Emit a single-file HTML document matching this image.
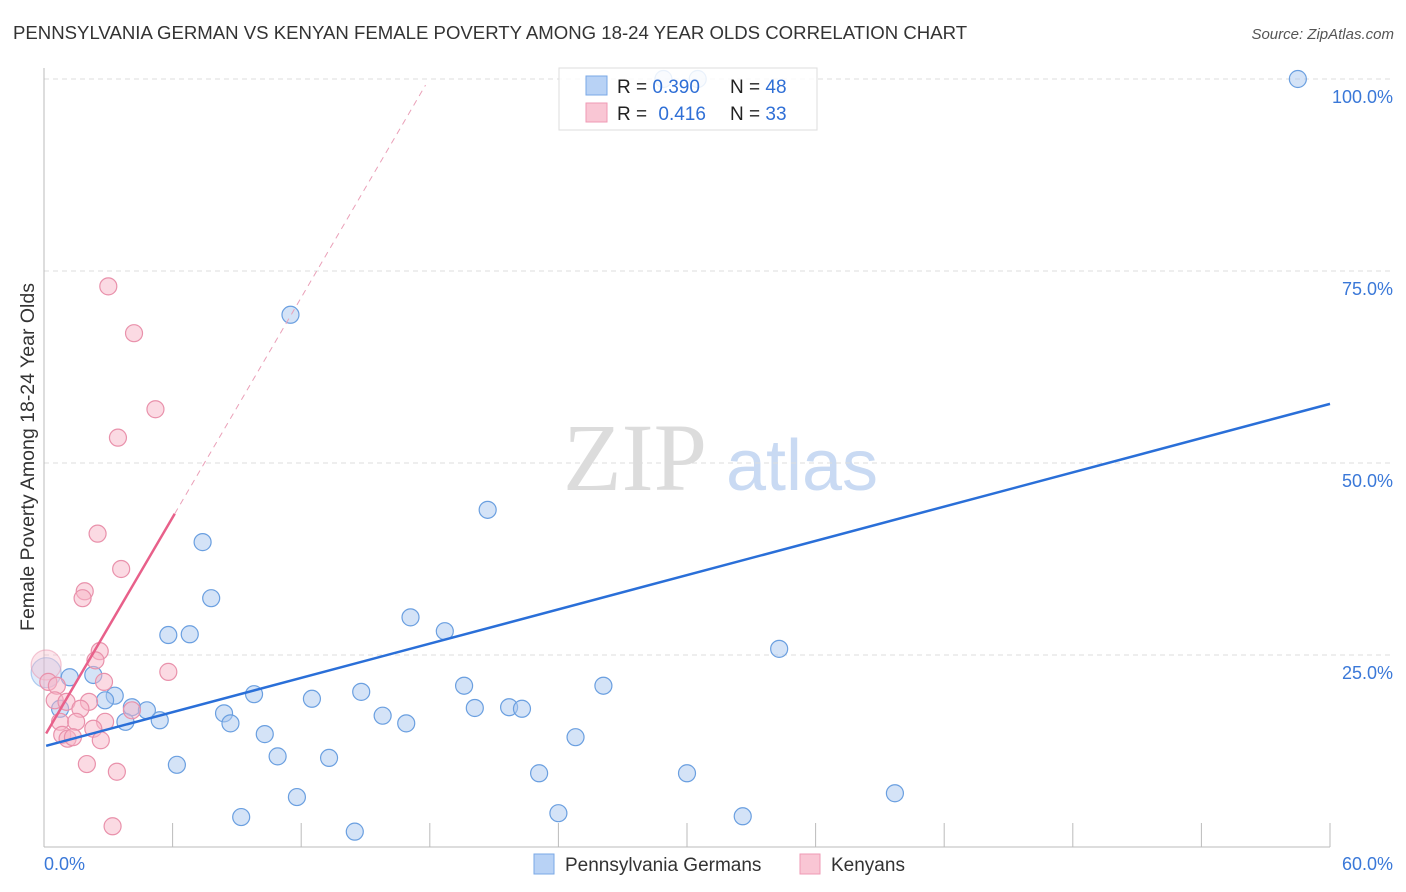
<!DOCTYPE html>
<html><head><meta charset="utf-8"><style>
body{margin:0;background:#fff;font-family:"Liberation Sans",sans-serif;}
svg{display:block}
</style></head><body>
<svg id="chart" width="1406" height="892" xmlns="http://www.w3.org/2000/svg">
<text x="13" y="39" font-size="18.6" fill="#333" font-family="Liberation Sans, sans-serif">PENNSYLVANIA GERMAN VS KENYAN FEMALE POVERTY AMONG 18-24 YEAR OLDS CORRELATION CHART</text>
<text x="1394" y="39" font-size="15" fill="#555" text-anchor="end" font-style="italic">Source: ZipAtlas.com</text>
<g>
<text x="635" y="490" font-size="96" fill="#dcdcdc" font-family="Liberation Serif, serif" text-anchor="middle">ZIP</text>
<text x="802" y="490" font-size="72" fill="#c9daf3" text-anchor="middle">atlas</text>
</g>
<g id="grid"></g>
<g id="axes"></g>
<g id="points"></g>
<g id="lines"></g>
<text transform="translate(34,457) rotate(-90)" font-size="19.5" fill="#333" text-anchor="middle">Female Poverty Among 18-24 Year Olds</text>
<g>
<rect x="559" y="68" width="258" height="62" fill="#fff" fill-opacity="0.85" stroke="#ddd"/>
<rect x="586" y="76" width="21" height="19" fill="#b8d2f5" stroke="#7aa8e6"/>
<rect x="586" y="103" width="21" height="19" fill="#f9c6d4" stroke="#ef9ab4"/>
<text x="617" y="93" font-size="19" fill="#222">R = <tspan fill="#2f6fd6">0.390</tspan></text>
<text x="730" y="93" font-size="19" fill="#222">N = <tspan fill="#2f6fd6">48</tspan></text>
<text x="617" y="120" font-size="19" fill="#222">R = <tspan fill="#2f6fd6" dx="6">0.416</tspan></text>
<text x="730" y="120" font-size="19" fill="#222">N = <tspan fill="#2f6fd6">33</tspan></text>
</g>
<g>
<rect x="534" y="854" width="20" height="20" fill="#b8d2f5" stroke="#7aa8e6"/>
<text x="565" y="871" font-size="19" fill="#333">Pennsylvania Germans</text>
<rect x="800" y="854" width="20" height="20" fill="#f9c6d4" stroke="#ef9ab4"/>
<text x="831" y="871" font-size="19" fill="#333">Kenyans</text>
</g>
</svg>
<script>
const blueX=[58.5,28.9,30.5,11.5,20.7,7.4,7.8,17.1,18.7,5.8,6.8,34.3,2.3,1.2,0.1,19.6,26.1,14.8,9.8,3.3,2.85,12.5,4.1,4.8,20.1,21.7,22.3,8.4,0.75,15.8,3.8,5.4,8.7,16.9,10.3,24.8,10.9,13.3,6.2,23.1,30.0,39.7,11.8,9.2,24.0,32.6,14.5];
const blueY=[100,100,100,69.3,43.9,39.7,32.4,29.9,28.1,27.6,27.7,25.8,22.4,22.1,22.7,21.0,21.0,20.2,19.9,19.7,19.1,19.3,18.2,17.8,18.1,18.2,18.0,17.4,18.0,17.1,16.3,16.5,16.1,16.1,14.7,14.3,11.8,11.6,10.7,9.6,9.6,7.0,6.5,3.9,4.4,4.0,2.0];
const pinkX=[3.0,4.2,5.2,3.45,2.5,3.6,1.9,1.8,2.6,2.4,5.8,0.1,0.2,2.8,0.6,0.5,1.05,2.1,4.1,1.7,0.75,1.5,2.85,2.3,0.85,1.1,1.35,2.65,2.0,3.4,3.2];
const pinkY=[73.0,66.9,57.0,53.3,40.8,36.2,33.3,32.4,25.5,24.3,22.8,23.7,21.5,21.5,21.0,19.1,18.9,18.9,17.8,18.0,16.3,16.3,16.3,15.4,14.6,14.1,14.3,13.9,10.8,9.8,2.7];
const blueBig=[14]; const pinkBig=[11];
const blueTrend=[13.1,57.7]; // value at x=0, x=60
const pinkTrend=[14.3,4.77]; // intercept, slope
const yTicks=[25,50,75,100];
const xTickCount=10;
const NS="http://www.w3.org/2000/svg";
const X=v=>44+v/60*1286, Y=v=>847-v*7.68;
function mk(t,a,p){const e=document.createElementNS(NS,t);for(const k in a)e.setAttribute(k,a[k]);document.getElementById(p).appendChild(e);return e;}
yTicks.forEach(t=>{
 const l=mk('line',{x1:44,x2:1393,y1:Y(t),y2:Y(t),stroke:'#ddd','stroke-dasharray':'5,4'},'grid');
 
 
 const tx=mk('text',{x:1393,y:Y(t)+24,'font-size':18,fill:'#3a78d8','text-anchor':'end'},'grid');
 tx.textContent=t.toFixed(1)+'%';
 
 
});
const ax=mk('line',{x1:44,x2:44,y1:68,y2:847,stroke:'#bbb'},'axes');


const bx=mk('line',{x1:44,x2:1330,y1:847,y2:847,stroke:'#bbb'},'axes');


for(let i=1;i<=xTickCount;i++){const t=mk('line',{x1:X(i*6),x2:X(i*6),y1:823,y2:847,stroke:'#bbb'},'axes');
 
 }
[['0.0%',44,'start'],['60.0%',1393,'end']].forEach(d=>{const t=mk('text',{x:d[1],y:870,'font-size':18,fill:'#3a78d8','text-anchor':d[2]},'axes');t.textContent=d[0];
 
 });
function pts(xs,ys,big,fill,stroke,name){xs.forEach((x,i)=>{const c=mk('circle',{cx:X(x),cy:Y(ys[i]),r:big.includes(i)?15:8.5,fill:fill,'fill-opacity':big.includes(i)?0.35:0.5,stroke:stroke,'stroke-width':1.2,'stroke-opacity':big.includes(i)?0.5:1},'points');
 
 });}
pts(blueX,blueY,blueBig,'#a9c7f0','#6a9fe0','pennsylvania-point');
pts(pinkX,pinkY,pinkBig,'#f7b6c8','#e991ab','kenyan-point');
const bl=mk('line',{x1:X(0.1),y1:Y(blueTrend[0]+(blueTrend[1]-blueTrend[0])*0.1/60),x2:X(60),y2:Y(blueTrend[1]),stroke:'#2a6fd8','stroke-width':2.5},'lines');


const pl=mk('line',{x1:X(0.1),y1:Y(pinkTrend[0]+pinkTrend[1]*0.1),x2:X(6.1),y2:Y(pinkTrend[0]+pinkTrend[1]*6.1),stroke:'#e8608a','stroke-width':2.5},'lines');


const pd=mk('line',{x1:X(6.1),y1:Y(pinkTrend[0]+pinkTrend[1]*6.1),x2:X(17.8),y2:Y(pinkTrend[0]+pinkTrend[1]*17.8),stroke:'#eaa0b8','stroke-width':1,'stroke-dasharray':'6,5'},'lines');


</script>
</body></html>
